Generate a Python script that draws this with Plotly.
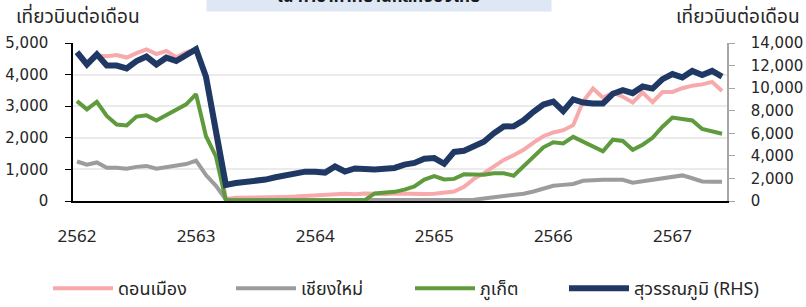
import plotly.graph_objects as go

# month index (monthly data, index 0 = ม.ค. 2562)
months = list(range(66))

don_mueang = [4650, 4280, 4600, 4580, 4620, 4540, 4680, 4800, 4650, 4750, 4550, 4700,
              4800, 3900, 2000, 60, 100, 100, 110, 120, 120, 130, 140, 160,
              190, 210, 240, 230, 210, 240, 230, 210, 240, 230, 200, 220,
              230, 250, 300, 450, 700, 880, 1100, 1300, 1450, 1620, 1850, 2050,
              2170, 2240, 2400, 3150, 3560, 3270, 3430, 3300, 3120, 3430, 3130, 3450,
              3450, 3570, 3650, 3690, 3770, 3480]

chiang_mai = [1250, 1150, 1220, 1050, 1050, 1020, 1080, 1110, 1020, 1060, 1100, 1170,
              1280, 820, 480, 50, 20, 20, 20, 20, 20, 20, 25, 25,
              25, 25, 25, 25, 25, 25, 30, 30, 30, 30, 30, 30,
              30, 30, 35, 35, 40, 80, 120, 160, 180, 230, 300, 400,
              480, 510, 540, 640, 670, 670, 670, 670, 580, 630, 670, 710,
              760, 810, 720, 620, 610, 610]

phuket = [3160, 2900, 3140, 2690, 2420, 2390, 2670, 2710, 2550, 2710, 2900, 3060,
          3380, 2050, 1410, 20, 20, 20, 20, 20, 20, 20, 20, 20,
          20, 20, 20, 20, 20, 30, 240, 270, 290, 360, 460, 680,
          790, 680, 700, 850, 850, 830, 880, 880, 800, 1100, 1420, 1700,
          1860, 1820, 2030, 1880, 1700, 1570, 1940, 1900, 1620, 1780, 2000, 2350,
          2640, 2600, 2550, 2280, 2200, 2130]

suvarnabhumi = [13200, 12100, 13000, 12000, 12000, 11750, 12400, 12800, 12100, 12700, 12400, 13000,
                13450, 11000, 6200, 1430, 1600, 1670, 1750, 1900, 2100, 2300, 2520, 2600,
                2600, 2520, 3060, 2610, 2880, 2780, 2800, 2860, 2930, 3220, 3370, 3750,
                3800, 3300, 4350, 4450, 4900, 5250, 6000, 6600, 6620, 7150, 7900, 8550,
                8800, 7960, 9000, 8720, 8650, 8650, 9500, 9820, 9560, 10150, 9960, 10800,
                11250, 10950, 11530, 11170, 11530, 11030]

year_labels = ["2562", "2563", "2564", "2565", "2566", "2567"]
year_pos = [0, 12, 24, 36, 48, 60]

THAI = "Noto Sans Thai, Tahoma, DejaVu Sans, sans-serif"
LEG_FONT = dict(family=THAI, size=18, color="#262626")

fig = go.Figure()
fig.add_trace(go.Scatter(x=months, y=don_mueang, name="ดอนเมือง", mode="lines",
                         line=dict(color="#F7A9AB", width=4), legend="legend"))
fig.add_trace(go.Scatter(x=months, y=chiang_mai, name="เชียงใหม่", mode="lines",
                         line=dict(color="#9C9C9C", width=4), legend="legend2"))
fig.add_trace(go.Scatter(x=months, y=phuket, name="ภูเก็ต", mode="lines",
                         line=dict(color="#5E9B3C", width=4), legend="legend3"))
fig.add_trace(go.Scatter(x=months, y=suvarnabhumi, name="สุวรรณภูมิ (RHS)", mode="lines",
                         line=dict(color="#1F3864", width=6), yaxis="y2", legend="legend4"))

def leg(xpx):
    return dict(orientation="h", xref="container", yref="container",
                x=xpx / 806, y=0.0, xanchor="left", yanchor="bottom",
                font=LEG_FONT, itemwidth=60, bgcolor="rgba(0,0,0,0)")

fig.update_layout(
    width=806, height=307,
    margin=dict(l=73, r=79, t=43, b=106, autoexpand=False),
    paper_bgcolor="white", plot_bgcolor="white",
    showlegend=True,
    legend=leg(48), legend2=leg(231), legend3=leg(410), legend4=leg(564),
    xaxis=dict(range=[-0.403, 65.5], showgrid=False, zeroline=False, automargin=False,
               showline=True, linecolor="black", linewidth=1.5,
               tickmode="array", tickvals=year_pos, ticktext=year_labels,
               ticks="", tickfont=dict(family="Liberation Sans Narrow, Noto Sans, sans-serif",
                                       size=17, color="#262626"),
               ticklabelstandoff=19),
    yaxis=dict(range=[0, 5000], tickvals=[0, 1000, 2000, 3000, 4000, 5000],
               tickformat=",d", showgrid=True, gridcolor="#EBEBEB", gridwidth=2,
               zeroline=False, showline=True, linecolor="black", linewidth=1.5,
               automargin=False,
               ticks="outside", ticklen=6, tickcolor="black", ticklabelstandoff=14,
               tickfont=dict(family="DejaVu Sans, sans-serif", size=15, color="#262626")),
    yaxis2=dict(range=[0, 14000], tickvals=[0, 2000, 4000, 6000, 8000, 10000, 12000, 14000],
                tickformat=",d", overlaying="y", side="right", showgrid=False,
                zeroline=False, showline=True, linecolor="#A6A6A6", linewidth=1.5,
                automargin=False,
                ticks="outside", ticklen=6, tickcolor="#A6A6A6",
                ticklabelstandoff=13,
                tickfont=dict(family="DejaVu Sans, sans-serif", size=15, color="#262626")),
)

fig.add_annotation(text="เที่ยวบินต่อเดือน", xref="paper", yref="paper",
                   x=(14 - 73) / 654, y=(201 - 17) / 158, xanchor="left", yanchor="middle",
                   showarrow=False, font=dict(family=THAI, size=19, color="#262626"))
fig.add_annotation(text="เที่ยวบินต่อเดือน", xref="paper", yref="paper",
                   x=(802 - 73) / 654, y=(201 - 17) / 158, xanchor="right", yanchor="middle",
                   showarrow=False, font=dict(family=THAI, size=19, color="#262626"))
fig.add_annotation(text="<b>ณ ท่าอากาศยานหลักของไทย</b>",
                   xref="paper", yref="paper", x=(379 - 73) / 654, y=(201 - 12) / 158,
                   xanchor="center", yanchor="bottom", showarrow=False,
                   width=342, bgcolor="#DDE8F4",
                   font=dict(family=THAI, size=17, color="#1a1a1a"))

fig.write_html("out.html", config={"displayModeBar": False},
               post_script="document.body.style.margin='0px';")
